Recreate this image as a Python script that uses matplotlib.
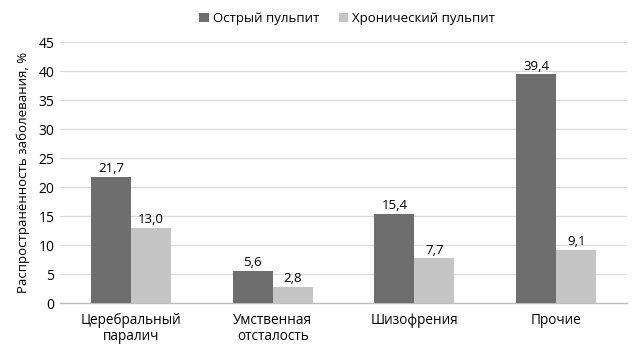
import matplotlib

matplotlib.use("Agg")
import matplotlib.pyplot as plt
import numpy as np

categories = ["Церебральный\nпаралич", "Умственная\nотсталость", "Шизофрения", "Прочие"]
acute = [21.7, 5.6, 15.4, 39.4]
chronic = [13.0, 2.8, 7.7, 9.1]
series_names = ["Острый пульпит", "Хронический пульпит"]

plt.rcParams["font.family"] = ["Open Sans", "DejaVu Sans"]

fig = plt.figure(figsize=(6.43, 3.48), dpi=100)
ax = fig.add_axes([0.0933, 0.1293, 0.882, 0.75])

x = np.arange(len(categories))
w = 0.282
b1 = ax.bar(x - w / 2, acute, w, color="#6e6e6e", label=series_names[0], zorder=3)
b2 = ax.bar(x + w / 2, chronic, w, color="#c5c5c5", label=series_names[1], zorder=3)

for bars, vals in [(b1, acute), (b2, chronic)]:
    for rect, v in zip(bars, vals):
        ax.text(rect.get_x() + rect.get_width() / 2, v + 0.3, f"{v:.1f}".replace(".", ","),
                ha="center", va="bottom", fontsize=9.5, color="#000000")

ax.set_xlim(-0.5, len(categories) - 0.5)
ax.set_ylim(0, 45)
ax.set_yticks(range(0, 46, 5))
ax.set_xticks(x)
ax.set_xticklabels(categories, fontsize=9.8, linespacing=1.15, color="#000000")
ax.tick_params(axis="y", labelsize=10, length=0, pad=4, labelcolor="#000000")
ax.tick_params(axis="x", length=0, pad=7)
ax.grid(axis="y", color="#dcdcdc", lw=0.9, zorder=0)
for s in ["top", "right", "left"]:
    ax.spines[s].set_visible(False)
ax.spines["bottom"].set_color("#bdbdbd")
ax.spines["bottom"].set_linewidth(1.0)

ax.set_ylabel("Распространённость заболевания, %", fontsize=9.5, labelpad=6)

fig.legend(loc="upper center", bbox_to_anchor=(0.54, 1.0), ncol=2, frameon=False,
           fontsize=9.5, handlelength=0.7, handleheight=0.7, handletextpad=0.3,
           columnspacing=1.5)

fig.savefig("out.png", dpi=100)
